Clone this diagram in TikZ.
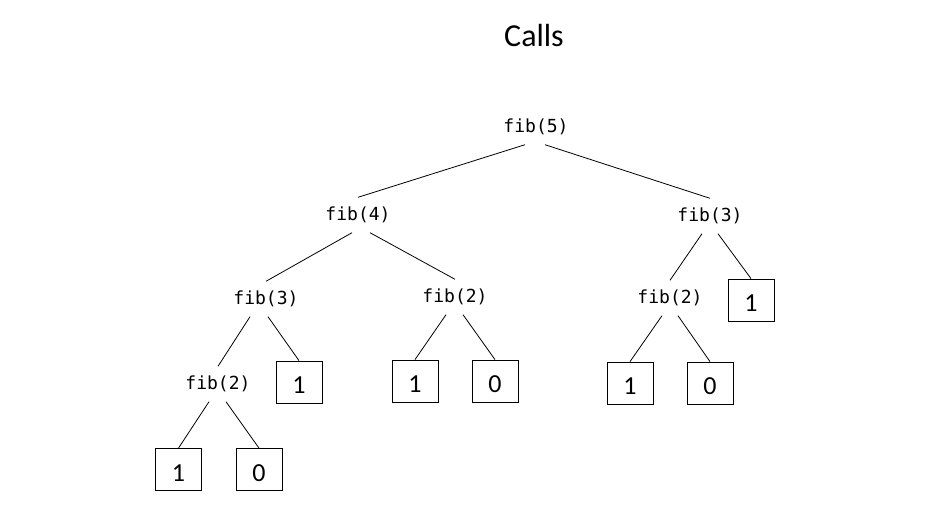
\documentclass[tikz,border=0pt]{standalone}
\usepackage{fontspec}
\usepackage{tikz}
\usetikzlibrary{calc}
\newfontfamily\titlefont{Carlito}
\newfontfamily\fibfont{DejaVu Sans Mono}

\begin{document}
\begin{tikzpicture}[x=1pt, y=-1pt,
    FIB/.style={font=\fibfont\fontsize{18pt}{20pt}\selectfont, text height=13.7pt, text depth=2.3pt, inner xsep=2pt, inner ysep=9.5pt},
    VAL/.style={draw, line width=0.8pt, minimum width=46pt, minimum height=42pt, inner sep=0pt, text height=23pt, text depth=0pt, font=\titlefont\fontsize{26pt}{28pt}\selectfont},
    EDGE/.style={line width=0.8pt}
    ]
        \useasboundingbox (0,0) rectangle (951,507);
        \node[font=\titlefont\fontsize{32pt}{36pt}\selectfont, anchor=base] (title) at (534,46) {Calls};
        % calls
        \node[FIB] (f5) at (536,127) {fib(5)};
        \node[FIB] (f4) at (358,215) {fib(4)};
        \node[FIB] (f3r) at (710,216) {fib(3)};
        \node[FIB] (f3l) at (266,299) {fib(3)};
        \node[FIB] (f2m) at (455,297) {fib(2)};
        \node[FIB] (f2r) at (670,298) {fib(2)};
        \node[FIB] (f2l) at (218,384) {fib(2)};
        % base cases
        \node[VAL] (b1) at (178.5,469.5) {1};
        \node[VAL] (b2) at (259,469.5) {0};
        \node[VAL] (b3) at (299,382) {1};
        \node[VAL] (b4) at (415,381) {1};
        \node[VAL] (b5) at (495,381) {0};
        \node[VAL] (b6) at (630,383) {1};
        \node[VAL] (b7) at (710,383) {0};
        \node[VAL] (b8) at (751,300) {1};
        % edges
        \draw[EDGE] ([xshift=-11pt]f5.south) -- (f4.north);
        \draw[EDGE] ([xshift=9pt]f5.south) -- (f3r.north);
        \draw[EDGE] ([xshift=-6pt]f4.south) -- (f3l.north);
        \draw[EDGE] ([xshift=12pt]f4.south) -- (f2m.north);
        \draw[EDGE] ([xshift=-16pt]f3l.south) -- (f2l.north);
        \draw[EDGE] ([xshift=2pt]f3l.south) -- (b3.north);
        \draw[EDGE] ([xshift=-9pt]f2l.south) -- (b1.north);
        \draw[EDGE] ([xshift=8pt]f2l.south) -- (b2.north);
        \draw[EDGE] ([xshift=-9pt]f2m.south) -- (b4.north);
        \draw[EDGE] ([xshift=8pt]f2m.south) -- (b5.north);
        \draw[EDGE] ([xshift=-8pt]f3r.south) -- (f2r.north);
        \draw[EDGE] ([xshift=8pt]f3r.south) -- (b8.north);
        \draw[EDGE] ([xshift=-8pt]f2r.south) -- (b6.north);
        \draw[EDGE] ([xshift=8pt]f2r.south) -- (b7.north);
    \end{tikzpicture}
\end{document}
